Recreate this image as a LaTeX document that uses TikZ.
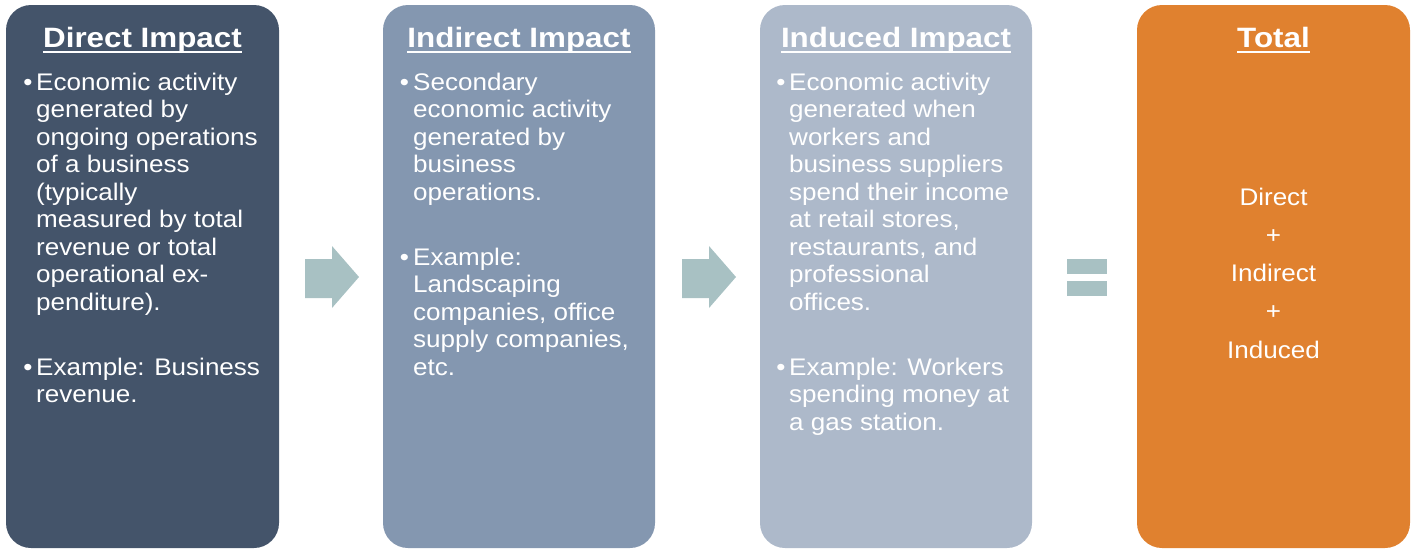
\documentclass[tikz,border=0pt]{standalone}
\usepackage{fontspec}
\setmainfont[FakeStretch=1.085]{Liberation Sans}
\newfontfamily\ttlfont[FakeStretch=1.12]{Liberation Sans}
\definecolor{boxA}{HTML}{44546A}
\definecolor{boxB}{HTML}{8497B0}
\definecolor{boxC}{HTML}{ADB9CA}
\definecolor{boxD}{HTML}{E0812F}
\definecolor{arr}{HTML}{A8C1C3}
\newcommand\mylines[4]{%
  \foreach \t [count=\i from 0] in {#4} {
    \node[body] (#3\i) at (#1, #2+27.5*\i) {\t};
  }%
}
\begin{document}
\begin{tikzpicture}[x=1pt,y=-1pt,
  panel/.style={rounded corners=25pt},
  ttl/.style={text=white, font=\ttlfont\fontsize{28}{30}\selectfont\bfseries, anchor=base, inner sep=0pt},
  ul/.style={white, line width=2.6pt},
  body/.style={text=white, font=\fontsize{24}{27.5}\selectfont, anchor=base west, inner sep=0pt},
  bul/.style={text=white, font=\fontsize{24}{27.5}\selectfont, anchor=base, inner sep=0pt},
  tot/.style={text=white, font=\fontsize{24}{27.5}\selectfont, anchor=base, inner sep=0pt},
  blk/.style={fill=arr}]
\useasboundingbox (0,0) rectangle (1413,550);
% panels
\fill[boxA, panel] (6,5) rectangle (279,548);
\fill[boxB, panel] (383,5) rectangle (655,548);
\fill[boxC, panel] (760,5) rectangle (1032,548);
\fill[boxD, panel] (1137,5) rectangle (1410,548);
% titles
\node[ttl] (t1) at (142.5,47.5) {Direct Impact};
\node[ttl] (t2) at (519,47.5) {Indirect Impact};
\node[ttl] (t3) at (896,47.5) {Induced Impact};
\node[ttl] (t4) at (1273.5,47.5) {Total};
\foreach \n in {t1,t2,t3,t4}
  \draw[ul] ([yshift=-4.5pt]\n.base west) -- ([yshift=-4.5pt]\n.base east);
% box 1
\node[bul] (b1a) at (28,90) {•};
\node[bul] (b1b) at (28,375) {•};
\mylines{36}{90}{a}{{Economic activity},{generated by},{ongoing operations},{of a business},{(typically},{measured by total},{revenue or total},{operational ex-},{penditure).}}
\mylines{36}{375}{ae}{{Example: Business},{revenue.}}
% box 2
\node[bul] (b2a) at (404.5,90) {•};
\node[bul] (b2b) at (404.5,265) {•};
\mylines{413}{90}{b}{{Secondary},{economic activity},{generated by},{business},{operations.}}
\mylines{413}{265}{be}{{Example:},{Landscaping},{companies, office},{supply companies,},{etc.}}
% box 3
\node[bul] (b3a) at (781,90) {•};
\node[bul] (b3b) at (781,375) {•};
\mylines{789}{90}{c}{{Economic activity},{generated when},{workers and},{business suppliers},{spend their income},{at retail stores,},{restaurants, and},{professional},{offices.}}
\mylines{789}{375}{ce}{{Example: Workers},{spending money at},{a gas station.}}
% total
\node[tot] (d1) at (1273.5,205) {Direct};
\node[tot] (d2) at (1273.5,243) {+};
\node[tot] (d3) at (1273.5,281) {Indirect};
\node[tot] (d4) at (1273.5,319.5) {+};
\node[tot] (d5) at (1273.5,358) {Induced};
% block arrows
\fill[blk] (305,259) -- (332,259) -- (332,246) -- (359,277) -- (332,308) -- (332,298) -- (305,298) -- cycle;
\fill[blk] (682,259) -- (709,259) -- (709,246) -- (736,277) -- (709,308) -- (709,298) -- (682,298) -- cycle;
% equals sign
\fill[blk] (1067,259) rectangle (1107,274);
\fill[blk] (1067,281) rectangle (1107,296);
\end{tikzpicture}
\end{document}
